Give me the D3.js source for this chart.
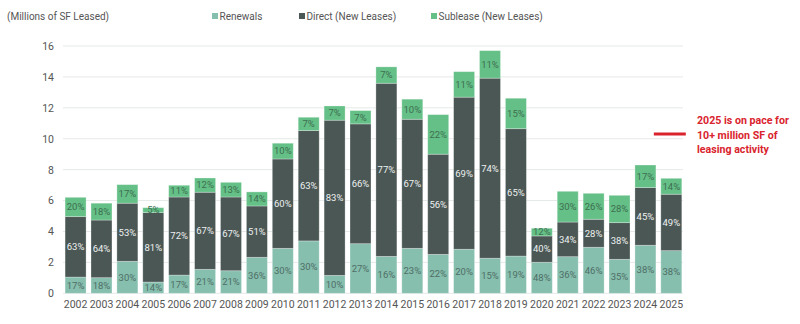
<!DOCTYPE html>
<html>
<head>
<meta charset="utf-8">
<script src="https://cdn.jsdelivr.net/npm/d3@7"></script>
<style>
  html, body { margin: 0; padding: 0; background: #ffffff; }
  svg { display: block; font-family: Roboto, "Noto Sans", sans-serif; }
</style>
</head>
<body>
<svg id="chart" width="800" height="324"></svg>
<script>
const years = ["2002","2003","2004","2005","2006","2007","2008","2009","2010","2011","2012","2013","2014","2015","2016","2017","2018","2019","2020","2021","2022","2023","2024","2025"];
const renewals = [1.05,1.01,2.07,0.73,1.18,1.55,1.46,2.33,2.91,3.39,1.16,3.21,2.39,2.91,2.52,2.85,2.27,2.41,2.01,2.37,2.98,2.20,3.11,2.76];
const direct   = [3.91,3.73,3.76,4.49,5.05,4.99,4.77,3.32,5.78,7.14,10.04,7.75,11.20,8.35,6.48,9.84,11.65,8.24,1.70,2.24,1.81,2.37,3.73,3.65];
const sublease = [1.25,1.09,1.20,0.32,0.76,0.92,0.95,0.91,1.02,0.86,0.92,0.86,1.06,1.30,2.56,1.65,1.78,1.97,0.50,1.99,1.68,1.77,1.46,1.03];
const renewalsPct = ["17%","18%","30%","14%","17%","21%","21%","36%","30%","30%","10%","27%","16%","23%","22%","20%","15%","19%","48%","36%","46%","35%","38%","38%"];
const directPct   = ["63%","64%","53%","81%","72%","67%","67%","51%","60%","63%","83%","66%","77%","67%","56%","69%","74%","65%","40%","34%","28%","38%","45%","49%"];
const subleasePct = ["20%","18%","17%","5%","11%","12%","13%","14%","10%","7%","7%","7%","7%","10%","22%","11%","11%","15%","12%","30%","26%","28%","17%","14%"];
const yTicks = [0,2,4,6,8,10,12,14,16];
const seriesNames = ["Renewals","Direct (New Leases)","Sublease (New Leases)"];
const paceValue = 10.3;
const paceYear = "2025";
const annotationLines = ["2025 is on pace for","10+ million SF of","leasing activity"];

const colors = ["#86bfae", "#4a5755", "#65c087"];
const labelColors = ["#4f6e66", "#eef1f0", "#3d6e50"];

const svg = d3.select("#chart");
const x = d3.scaleBand().domain(years).range([62.5, 684.4]).paddingInner(0.19).paddingOuter(0.1);
const y = d3.scaleLinear().domain([0, 16]).range([293.3, 46]);

// gridlines
svg.append("g").selectAll("line").data(yTicks).join("line")
  .attr("x1", 63).attr("x2", 683)
  .attr("y1", d => y(d)).attr("y2", d => y(d))
  .attr("stroke", "#e5e9e8").attr("stroke-width", 1);

// y axis labels
const yAxis = d3.axisLeft(y).tickValues(yTicks).tickSize(0).tickPadding(0);
const gy = svg.append("g").attr("transform", "translate(54,0)").call(yAxis);
gy.select(".domain").remove();
gy.selectAll("text").attr("font-size", 10.5).attr("fill", "#555").attr("font-family", "Roboto, sans-serif");

// x axis labels
const xAxis = d3.axisBottom(x).tickSize(0).tickPadding(0);
const gx = svg.append("g").attr("transform", "translate(0,301)").call(xAxis);
gx.select(".domain").remove();
gx.selectAll("text").attr("font-size", 10.5).attr("fill", "#555").attr("font-family", "Roboto, sans-serif");

// stack
const table = years.map((yr, i) => ({year: yr, r: renewals[i], d: direct[i], s: sublease[i], i}));
const stack = d3.stack().keys(["r","d","s"])(table);
const pcts = [renewalsPct, directPct, subleasePct];

stack.forEach((layer, li) => {
  const g = svg.append("g");
  g.selectAll("rect").data(layer).join("rect")
    .attr("x", d => x(d.data.year))
    .attr("width", x.bandwidth())
    .attr("y", d => y(d[1]))
    .attr("height", d => y(d[0]) - y(d[1]))
    .attr("fill", colors[li])
    .attr("stroke", "#ffffff").attr("stroke-opacity", 0.35).attr("stroke-width", 0.8);
});
stack.forEach((layer, li) => {
  svg.append("g").selectAll("text").data(layer).join("text")
    .attr("x", d => x(d.data.year) + x.bandwidth() / 2)
    .attr("y", d => (y(d[0]) + y(d[1])) / 2)
    .attr("dy", "0.35em")
    .attr("text-anchor", "middle")
    .attr("font-size", 9.5)
    .attr("fill", labelColors[li])
    .text(d => pcts[li][d.data.i]);
});

// y title
svg.append("text").attr("x", 7).attr("y", 20).attr("font-size", 10).attr("fill", "#555")
  .text("(Millions of SF Leased)");

// legend
const legendX = [212, 299, 431];
seriesNames.forEach((n, i) => {
  svg.append("rect").attr("x", legendX[i]).attr("y", 13).attr("width", 6).attr("height", 6).attr("fill", colors[i]);
  svg.append("text").attr("x", legendX[i] + 7.5).attr("y", 19.5).attr("font-size", 10).attr("fill", "#555").text(n);
});

// pace marker
const px = x(paceYear);
svg.append("line")
  .attr("x1", px - 7).attr("x2", px + x.bandwidth() + 4)
  .attr("y1", y(paceValue)).attr("y2", y(paceValue))
  .attr("stroke", "#d9232d").attr("stroke-width", 3);

const ann = svg.append("text").attr("x", 697).attr("y", 124)
  .attr("font-size", 12.5).attr("font-weight", "bold").attr("fill", "#d9232d");
annotationLines.forEach((t, i) => {
  ann.append("tspan").attr("x", 697).attr("dy", i === 0 ? 0 : 14.6).text(t);
});
// fit first line to ~92px like the reference
const firstW = ann.select("tspan").node().getComputedTextLength();
if (firstW > 92) {
  ann.attr("font-size", 12.5 * 92 / firstW);
}
</script>
</body>
</html>
